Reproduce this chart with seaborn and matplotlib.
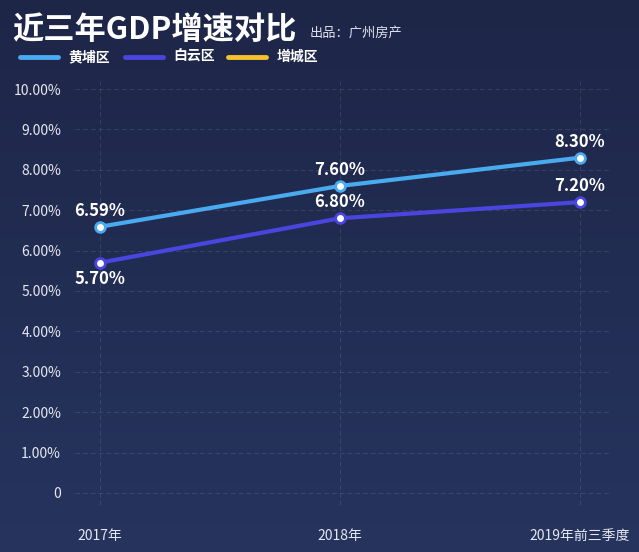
import numpy as np
import pandas as pd
import matplotlib
matplotlib.use("Agg")
import matplotlib.pyplot as plt
import seaborn as sns

# Data
years = ["2017年", "2018年", "2019年前三季度"]
huangpu = [6.59, 7.60, 8.30]
baiyun = [5.70, 6.80, 7.20]
series_names = ["黄埔区", "白云区", "增城区"]
series_colors = ["#4aaaf0", "#4b45e0", "#f5c22e"]
yticks = [0, 1, 2, 3, 4, 5, 6, 7, 8, 9, 10]

sns.set_style("dark")
plt.rcParams["font.family"] = ["Noto Sans CJK SC", "DejaVu Sans"]

df = pd.DataFrame({
    "x": list(range(len(years))) * 2,
    "value": huangpu + baiyun,
    "region": [series_names[0]] * len(years) + [series_names[1]] * len(years),
})

fig = plt.figure(figsize=(6.39, 5.52), dpi=100)

# background gradient
bg = fig.add_axes([0, 0, 1, 1])
grad = np.linspace(0, 1, 256).reshape(-1, 1)
top = np.array([30, 38, 72]) / 255
bottom = np.array([38, 52, 94]) / 255
img = top + (bottom - top) * grad[:, :, None] * np.ones((1, 2, 1))
bg.imshow(img, aspect="auto", extent=[0, 1, 0, 1])
bg.set_axis_off()

ax = fig.add_axes([75 / 639, 0.085, 535 / 639, 0.7684])
ax.set_facecolor("none")

sns.lineplot(data=df, x="x", y="value", hue="region",
             palette={series_names[0]: series_colors[0], series_names[1]: series_colors[1]},
             linewidth=3, marker="o", markersize=7, markerfacecolor="white",
             markeredgewidth=2, legend=False, ax=ax)
for line, c in zip(ax.lines, series_colors):
    line.set_markeredgecolor(c)

for i, v in enumerate(huangpu):
    ax.annotate(f"{v:.2f}%", (i, v), xytext=(0, 5), textcoords="offset points",
                ha="center", va="bottom", color="white", fontsize=12, fontweight="bold")
for i, v in enumerate(baiyun):
    off, va = ((0, -5), "top") if i == 0 else ((0, 5), "bottom")
    ax.annotate(f"{v:.2f}%", (i, v), xytext=off, textcoords="offset points",
                ha="center", va=va, color="white", fontsize=12, fontweight="bold")

ax.set_xlim(-0.104, 2.125)
ax.set_ylim(-0.3, 10.2)
ax.set_yticks(yticks)
ax.set_yticklabels(["0"] + [f"{t:.2f}%" for t in yticks[1:]])
ax.set_xticks(range(len(years)))
ax.set_xticklabels(years)
ax.tick_params(axis="both", colors="#e6e8f0", labelsize=10, length=0)
ax.tick_params(axis="x", pad=17)
ax.tick_params(axis="y", pad=10)
ax.set_xlabel("")
ax.set_ylabel("")
ax.grid(True, color="white", alpha=0.1, linestyle=(0, (4, 3)), linewidth=0.8)
for s in ax.spines.values():
    s.set_visible(False)

# title and source
fig.text(12 / 639, 1 - 30 / 552, "近三年GDP增速对比", color="white", fontsize=22.5,
         fontweight="bold", va="center", ha="left")
fig.text(310 / 639, 1 - 33 / 552, "出品：广州房产", color="#dfe2ec", fontsize=9.5,
         va="center", ha="left")

# legend
leg_items = [(20, 68), (125, 173), (228, 277)]
for (lx, tx), name, c in zip(leg_items, series_names, series_colors):
    yy = 1 - 57 / 552
    fig.add_artist(plt.Line2D([lx / 639, (lx + 38) / 639], [yy, yy], color=c,
                              linewidth=3.5, solid_capstyle="round"))
    fig.text(tx / 639, yy, name, color="white", fontsize=10, fontweight="bold",
             va="center", ha="left")

fig.savefig("out.png", dpi=100, facecolor="#222c52")
